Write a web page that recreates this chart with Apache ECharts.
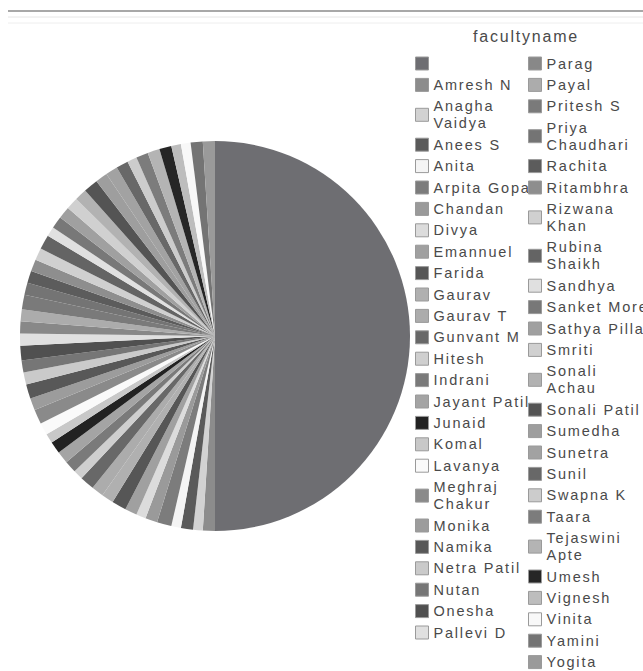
<!DOCTYPE html>
<html>
<head>
<meta charset="utf-8">
<script src="https://cdn.jsdelivr.net/npm/echarts@6/dist/echarts.min.js"></script>
<style>
  html, body { margin: 0; padding: 0; background: #fff; }
  #chart { width: 643px; height: 671px; }
  #chart text { letter-spacing: 1.8px; }
</style>
</head>
<body>
<div id="chart"></div>
<script>
// ---- data ----
const categories = [' ', 'Amresh N', 'Anagha Vaidya', 'Anees S', 'Anita', 'Arpita Gopal', 'Chandan', 'Divya',
  'Emannuel', 'Farida', 'Gaurav', 'Gaurav T', 'Gunvant M', 'Hitesh', 'Indrani', 'Jayant Patil', 'Junaid',
  'Komal', 'Lavanya', 'Meghraj Chakur', 'Monika', 'Namika', 'Netra Patil', 'Nutan', 'Onesha', 'Pallevi D',
  'Parag', 'Payal', 'Pritesh S', 'Priya Chaudhari', 'Rachita', 'Ritambhra', 'Rizwana Khan', 'Rubina Shaikh',
  'Sandhya', 'Sanket More', 'Sathya Pillai', 'Smriti', 'Sonali Achau', 'Sonali Patil', 'Sumedha', 'Sunetra',
  'Sunil', 'Swapna K', 'Taara', 'Tejaswini Apte', 'Umesh', 'Vignesh', 'Vinita', 'Yamini', 'Yogita'];

const counts = [50, 1, 0.8, 1, 0.8, 1.2, 1, 0.8,
  1, 1.2, 1, 1, 1.2, 0.8, 1, 1, 1,
  0.8, 1, 1.2, 1, 1.2, 1, 1, 1.2, 1,
  1, 1, 1.2, 1, 1, 1, 1, 1.2,
  0.8, 1, 1, 1, 1, 1.2, 1, 1,
  1, 0.8, 1, 1, 1, 0.8, 0.8, 1, 1];

const legendTitle = 'facultyname';
// names shown on two lines in the legend
const wrappedNames = ['Anagha Vaidya', 'Meghraj Chakur', 'Priya Chaudhari', 'Rizwana Khan', 'Rubina Shaikh',
  'Sonali Achau', 'Tejaswini Apte'];
const leftColumnCount = 26;

// ---- styles ----
const palette = ['#6e6e72', '#8c8c8c', '#d2d2d2', '#5a5a5a', '#f4f4f4', '#7c7c7c', '#9a9a9a', '#dcdcdc',
  '#a0a0a0', '#565656', '#b0b0b0', '#acacac', '#686868', '#cfcfcf', '#7a7a7a', '#a4a4a4', '#222222',
  '#c8c8c8', '#fafafa', '#8a8a8a', '#9c9c9c', '#585858', '#cacaca', '#767676', '#505050', '#e0e0e0',
  '#888888', '#acacac', '#7a7a7a', '#747474', '#5c5c5c', '#8e8e8e', '#d0d0d0', '#646464',
  '#e0e0e0', '#787878', '#a0a0a0', '#d0d0d0', '#b2b2b2', '#545454', '#9e9e9e', '#a2a2a2',
  '#686868', '#cccccc', '#7c7c7c', '#b4b4b4', '#262626', '#bdbdbd', '#f8f8f8', '#747474', '#9a9a9a'];

const chart = echarts.init(document.getElementById('chart'), null, { renderer: 'svg' });

const seriesData = categories.map((c, i) => ({ name: c, value: counts[i], itemStyle: { color: palette[i] } }));

const legendText = {
  fontFamily: 'Liberation Sans, Arial, sans-serif',
  fontSize: 14.5,
  lineHeight: 17,
  color: '#4a4a4a'
};
const legendBase = {
  orient: 'vertical',
  top: 50,
  height: 640,
  itemWidth: 13,
  itemHeight: 13,
  itemGap: 4.4,
  icon: 'rect',
  selectedMode: false,
  itemStyle: { borderColor: '#9a9a9a', borderWidth: 1 },
  textStyle: legendText,
  formatter: function (name) {
    return wrappedNames.indexOf(name) >= 0 ? name.replace(' ', '\n') : name;
  }
};

chart.setOption({
  animation: false,
  backgroundColor: '#ffffff',
  title: {
    text: legendTitle,
    left: 468,
    top: 23,
    textStyle: { fontFamily: 'Liberation Sans, Arial, sans-serif', fontSize: 16, fontWeight: 'normal', color: '#4a4a4a' }
  },
  graphic: [
    { type: 'line', shape: { x1: 8, y1: 11, x2: 643, y2: 11 }, style: { stroke: '#a8a8a8', lineWidth: 2 } },
    { type: 'line', shape: { x1: 8, y1: 17, x2: 643, y2: 17 }, style: { stroke: '#e6e6e6', lineWidth: 1 } },
    { type: 'line', shape: { x1: 8, y1: 23, x2: 643, y2: 23 }, style: { stroke: '#eeeeee', lineWidth: 1 } }
  ],
  legend: [
    Object.assign({}, legendBase, { left: 410, data: categories.slice(0, leftColumnCount) }),
    Object.assign({}, legendBase, { left: 523, data: categories.slice(leftColumnCount) })
  ],
  series: [{
    type: 'pie',
    center: [215, 336],
    radius: 195,
    startAngle: 90,
    clockwise: true,
    label: { show: false },
    labelLine: { show: false },
    itemStyle: { borderWidth: 0 },
    emphasis: { disabled: true },
    data: seriesData
  }]
});
</script>
</body>
</html>
